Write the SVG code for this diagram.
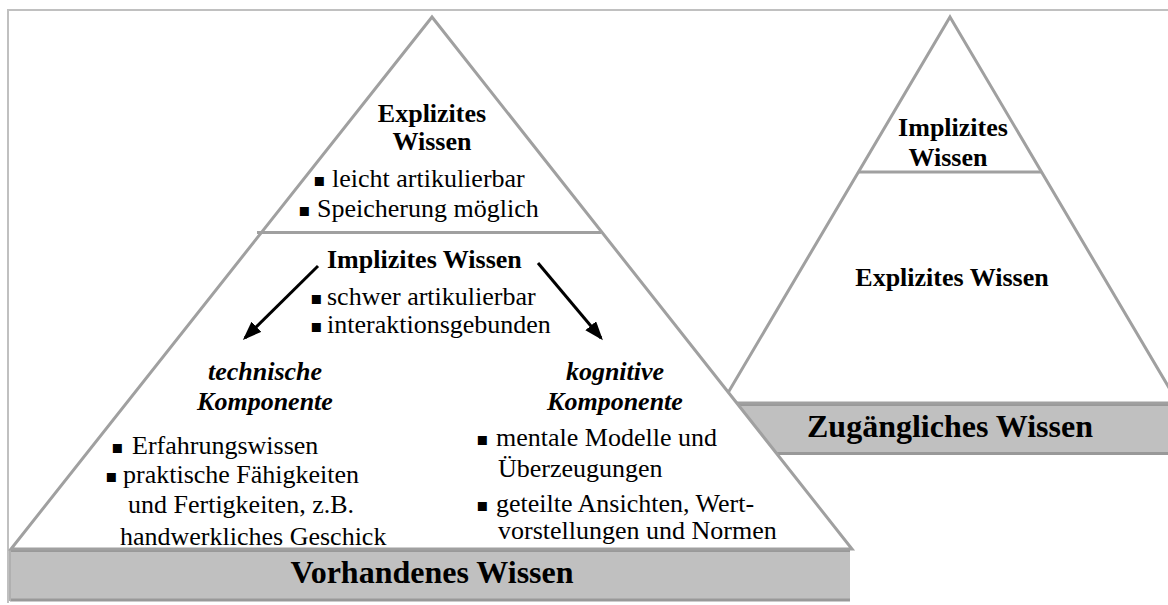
<svg xmlns="http://www.w3.org/2000/svg" width="1168" height="605" viewBox="0 0 1168 605">
  <defs>
    <style>
      text { font-family: "Liberation Serif", "Times New Roman", serif; font-size: 26px; fill: #000; }
      .b { font-weight: bold; }
      .bi { font-weight: bold; font-style: italic; }
      .mid { text-anchor: middle; }
      .bar-label { font-weight: bold; font-size: 32px; text-anchor: middle; }
      .bul { font-family: "DejaVu Sans", sans-serif; font-size: 18px; }
      .frame { stroke: #c0c0c0; stroke-width: 2; fill: none; }
      .pyr { stroke: #a0a0a0; stroke-width: 3; fill: #fff; stroke-linejoin: miter; }
      .div { stroke: #a0a0a0; stroke-width: 3; }
      .bar { fill: #c0c0c0; }
      .bar-edge { stroke: #999; stroke-width: 3; }
      .arrow { stroke: #000; stroke-width: 3; marker-end: url(#head); }
    </style>
    <marker id="head" markerUnits="userSpaceOnUse" markerWidth="20" markerHeight="16" refX="16" refY="7" orient="auto">
      <path d="M0,0 L19,7 L0,14 Z" fill="#000"/>
    </marker>
  </defs>

  <rect width="1168" height="605" fill="#fff"/>

  <!-- outer frame -->
  <path class="frame" d="M8,603 L8,10 L1168,10"/>

  <!-- accessible knowledge pyramid (behind) -->
  <g id="zugaengliches-wissen">
    <rect class="bar" x="722" y="404" width="460" height="49"/>
    <line class="bar-edge" x1="722" y1="404.5" x2="1168" y2="404.5"/>
    <line class="bar-edge" x1="722" y1="453.5" x2="1168" y2="453.5"/>
    <polygon class="pyr" points="950,17 1178,403 722,403"/>
    <line class="div" x1="859" y1="172" x2="1041" y2="172"/>
    <text class="b mid" x="953" y="136">Implizites</text>
    <text class="b mid" x="948" y="166">Wissen</text>
    <text class="b mid" x="952" y="286">Explizites Wissen</text>
    <text class="bar-label" x="950" y="437">Zugängliches Wissen</text>
  </g>

  <!-- existing knowledge pyramid (front) -->
  <g id="vorhandenes-wissen">
    <rect class="bar" x="10" y="550" width="840" height="50"/>
    <line class="bar-edge" x1="10" y1="550.5" x2="850" y2="550.5"/>
    <line class="bar-edge" x1="10" y1="600" x2="850" y2="600"/>
    <line x1="10" y1="549" x2="10" y2="601" stroke="#b0b0b0" stroke-width="2"/>
    <polygon class="pyr" points="432,17 852,549 11,549"/>
    <line class="div" x1="257" y1="232.5" x2="601" y2="232.5"/>
    <text class="bar-label" x="432" y="583">Vorhandenes Wissen</text>
  </g>

  <g id="explizites-wissen">
    <text class="b mid" x="432" y="122">Explizites</text>
    <text class="b mid" x="432" y="150">Wissen</text>
    <text><tspan class="bul" x="313" y="186">▪</tspan><tspan x="332" y="187">leicht artikulierbar</tspan></text>
    <text><tspan class="bul" x="298" y="216">▪</tspan><tspan x="317" y="217">Speicherung möglich</tspan></text>
  </g>

  <g id="implizites-wissen">
    <text class="b" x="327" y="268">Implizites Wissen</text>
    <text><tspan class="bul" x="310" y="304">▪</tspan><tspan x="327" y="305">schwer artikulierbar</tspan></text>
    <text><tspan class="bul" x="310" y="332">▪</tspan><tspan x="327" y="333">interaktionsgebunden</tspan></text>
  </g>

  <g id="technische-komponente">
    <text class="bi mid" x="265" y="380">technische</text>
    <text class="bi mid" x="265" y="410">Komponente</text>
    <text><tspan class="bul" x="111" y="453">▪</tspan><tspan x="132" y="454">Erfahrungswissen</tspan></text>
    <text><tspan class="bul" x="105" y="482">▪</tspan><tspan x="123" y="483">praktische Fähigkeiten</tspan></text>
    <text x="128" y="513">und Fertigkeiten, z.B.</text>
    <text x="120" y="545">handwerkliches Geschick</text>
  </g>

  <g id="kognitive-komponente">
    <text class="bi mid" x="615" y="380">kognitive</text>
    <text class="bi mid" x="615" y="410">Komponente</text>
    <text><tspan class="bul" x="476" y="445">▪</tspan><tspan x="496" y="446">mentale Modelle und</tspan></text>
    <text x="498" y="477">Überzeugungen</text>
    <text><tspan class="bul" x="476" y="511">▪</tspan><tspan x="496" y="512">geteilte Ansichten, Wert-</tspan></text>
    <text x="498" y="539">vorstellungen und Normen</text>
  </g>

  <!-- connectors -->
  <g id="connectors">
    <line class="arrow" x1="318" y1="266" x2="245" y2="338"/>
    <line class="arrow" x1="538" y1="263" x2="601" y2="338"/>
  </g>
</svg>
